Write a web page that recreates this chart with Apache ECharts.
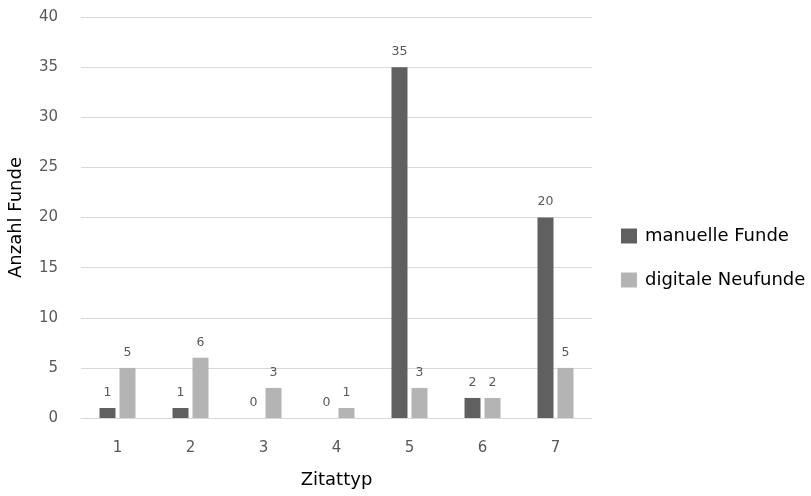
<!DOCTYPE html>
<html><head><meta charset="utf-8">
<script src="https://cdn.jsdelivr.net/npm/echarts@6/dist/echarts.min.js"></script>
<style>html,body{margin:0;padding:0;background:#fff}#c{width:811px;height:496px}</style>
</head><body><div id="c"></div>
<script>
const categories = ['1','2','3','4','5','6','7'];
const manuelle = [1,1,0,0,35,2,20];
const digitale = [5,6,3,1,3,2,5];
const seriesNames = ['manuelle Funde','digitale Neufunde'];
const yTicks = {min:0,max:40,interval:5};

const chart = echarts.init(document.getElementById('c'));
const font = '"DejaVu Sans", "Noto Sans", sans-serif';
const lbl = {show:true,position:'top',distance:9,color:'#595959',fontSize:12.5,fontFamily:font};
chart.setOption({
  animation:false,
  textStyle:{fontFamily:font},
  grid:{left:81,right:219,top:17,bottom:78,containLabel:false,outerBoundsMode:'none'},
  legend:{orient:'vertical',left:616,top:221,itemWidth:16,itemHeight:15,itemGap:24,
    icon:'rect',textStyle:{fontSize:18,lineHeight:20,color:'#000',fontFamily:font,padding:[0,0,0,3]},
    data:seriesNames},
  xAxis:{type:'category',data:categories,
    name:'Zitattyp',nameLocation:'middle',nameGap:53,
    nameTextStyle:{fontSize:18,color:'#000'},
    axisLine:{lineStyle:{color:'#d9d9d9'}},axisTick:{show:false},
    axisLabel:{fontSize:15,color:'#595959',margin:23}},
  yAxis:{type:'value',min:yTicks.min,max:yTicks.max,interval:yTicks.interval,
    name:'Anzahl Funde',nameLocation:'middle',nameGap:56,
    nameTextStyle:{fontSize:18,color:'#000'},
    axisLine:{show:false},axisTick:{show:false},
    axisLabel:{fontSize:15,color:'#595959',margin:23},
    splitLine:{lineStyle:{color:'#d9d9d9'}}},
  series:[
    {name:seriesNames[0],type:'bar',data:manuelle,barWidth:16,barGap:'25%',
      itemStyle:{color:'#606060'},label:lbl},
    {name:seriesNames[1],type:'bar',data:digitale,barWidth:16,barGap:'25%',
      itemStyle:{color:'#b4b4b4'},label:lbl}
  ]
});
</script></body></html>
